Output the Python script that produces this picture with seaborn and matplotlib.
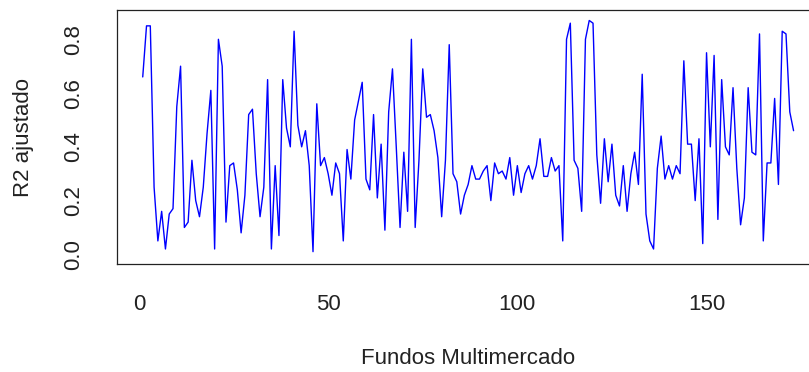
import numpy as np
import pandas as pd
import seaborn as sns
import matplotlib
matplotlib.use("Agg")
import matplotlib.pyplot as plt

# Adjusted R-squared per multimarket fund (fund index 1..173)
r2_ajustado = [
    0.66, 0.85, 0.85, 0.25, 0.05, 0.16, 0.02, 0.15, 0.17, 0.55,
    0.70, 0.10, 0.12, 0.35, 0.20, 0.14, 0.25, 0.45, 0.61, 0.02,
    0.80, 0.70, 0.12, 0.33, 0.34, 0.24, 0.08, 0.22, 0.52, 0.54,
    0.30, 0.14, 0.25, 0.65, 0.02, 0.33, 0.07, 0.65, 0.47, 0.40,
    0.83, 0.48, 0.40, 0.46, 0.33, 0.01, 0.56, 0.33, 0.36, 0.30,
    0.22, 0.34, 0.30, 0.05, 0.39, 0.28, 0.50, 0.57, 0.64, 0.28,
    0.24, 0.52, 0.21, 0.41, 0.09, 0.53, 0.69, 0.40, 0.10, 0.38,
    0.16, 0.80, 0.10, 0.35, 0.69, 0.51, 0.52, 0.46, 0.36, 0.14,
    0.35, 0.78, 0.30, 0.27, 0.15, 0.22, 0.26, 0.33, 0.28, 0.28,
    0.31, 0.33, 0.20, 0.34, 0.30, 0.31, 0.28, 0.36, 0.22, 0.33,
    0.23, 0.30, 0.33, 0.28, 0.33, 0.43, 0.29, 0.29, 0.36, 0.31,
    0.33, 0.05, 0.80, 0.86, 0.35, 0.32, 0.16, 0.80, 0.87, 0.86,
    0.37, 0.19, 0.43, 0.27, 0.41, 0.22, 0.18, 0.33, 0.16, 0.30,
    0.38, 0.26, 0.67, 0.15, 0.05, 0.02, 0.32, 0.44, 0.28, 0.33,
    0.28, 0.33, 0.30, 0.72, 0.41, 0.41, 0.20, 0.43, 0.04, 0.75,
    0.40, 0.74, 0.13, 0.65, 0.40, 0.37, 0.62, 0.32, 0.11, 0.21,
    0.62, 0.38, 0.37, 0.82, 0.05, 0.34, 0.34, 0.58, 0.26, 0.83,
    0.82, 0.53, 0.46,
]
fundo = list(range(1, len(r2_ajustado) + 1))

x_ticks = [0, 50, 100, 150]
y_ticks = [0.0, 0.2, 0.4, 0.6, 0.8]
y_tick_labels = ["0.0", "0.2", "0.4", "0.6", "0.8"]

df = pd.DataFrame({"Fundo": fundo, "R2": r2_ajustado})

sns.set_style("white")
plt.rcParams["font.family"] = ["Liberation Sans", "DejaVu Sans"]

W, H = 809, 372
fig = plt.figure(figsize=(W / 100, H / 100), dpi=100)
fig.patch.set_facecolor("white")

# plot region in pixels: left 116.7, right 819.6 (runs past the canvas edge), top 10, bottom 264.3
left_px, right_px, top_px, bottom_px = 116.7, 819.6, 10.0, 264.3
ax = fig.add_axes([left_px / W, 1 - bottom_px / H,
                   (right_px - left_px) / W, (bottom_px - top_px) / H])

sns.lineplot(data=df, x="Fundo", y="R2", color="#0000FF", linewidth=1.0, ax=ax)

n = len(r2_ajustado)
pad_x = 0.04 * (n - 1)
ax.set_xlim(1 - pad_x, n + pad_x)
ax.set_ylim(-0.037, 0.909)

ax.set_xticks(x_ticks)
ax.set_xticklabels([str(t) for t in x_ticks])
ax.set_yticks(y_ticks)
ax.set_yticklabels(y_tick_labels, rotation=90, va="center")

for s in ["left", "top", "bottom", "right"]:
    ax.spines[s].set_visible(True)
    ax.spines[s].set_color("#222222")
    ax.spines[s].set_linewidth(0.9)

ax.tick_params(axis="both", direction="out", length=9.1, width=0.9,
               color="#222222", labelsize=16, labelcolor="#222222")
ax.tick_params(axis="x", pad=12)
ax.tick_params(axis="y", pad=14)

ax.set_xlabel("Fundos Multimercado", fontsize=16, color="#222222")
ax.set_ylabel("R2 ajustado", fontsize=16, color="#222222")
ax.xaxis.set_label_coords(0.5, (bottom_px - 359) / (bottom_px - top_px))
ax.xaxis.label.set_va("center")
ax.yaxis.set_label_coords((23 - left_px) / (right_px - left_px), 0.5)
ax.yaxis.label.set_va("center")
ax.yaxis.label.set_ha("center")

fig.savefig("out.png", dpi=100, facecolor="white")
